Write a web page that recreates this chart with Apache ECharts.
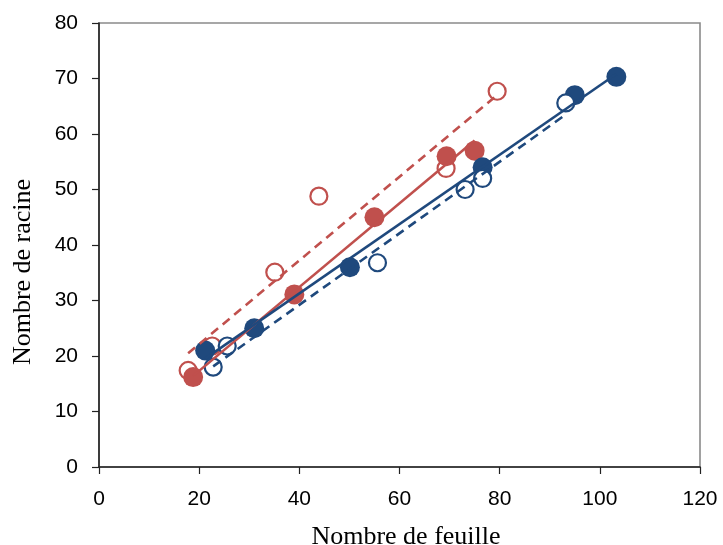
<!DOCTYPE html>
<html>
<head>
<meta charset="utf-8">
<script src="https://cdn.jsdelivr.net/npm/echarts@6/dist/echarts.min.js"></script>
<style>
  html, body { margin: 0; padding: 0; background: #fff; }
  #chart { width: 723px; height: 545px; }
</style>
</head>
<body>
<div id="chart"></div>
<script>
// Leaf count (x) and root count (y) for four groups
const redOpenX   = [17.8, 22.6, 35.1, 43.9, 69.3, 79.5];
const redOpenY   = [17.4, 21.8, 35.1, 48.8, 53.8, 67.7];
const redFilledX = [18.8, 39.0, 55.0, 69.4, 75.0];
const redFilledY = [16.2, 31.1, 45.0, 56.0, 57.0];
const blueFilledX = [21.2, 31.0, 50.1, 76.6, 95.0, 103.3];
const blueFilledY = [21.0, 25.0, 36.0, 54.0, 67.0, 70.3];
const blueOpenX  = [22.8, 25.6, 55.6, 73.1, 76.6, 93.2];
const blueOpenY  = [18.0, 21.8, 36.8, 50.0, 52.0, 65.6];

const xTicks = [0, 20, 40, 60, 80, 100, 120];
const yTicks = [0, 10, 20, 30, 40, 50, 60, 70, 80];

const RED = '#C0504D';
const BLUE = '#1F497D';

function pairs(xs, ys) { return xs.map((x, i) => [x, ys[i]]); }

// Least-squares line over the x range of a group
function fitLine(xs, ys) {
  const n = xs.length;
  const mx = xs.reduce((a, b) => a + b, 0) / n;
  const my = ys.reduce((a, b) => a + b, 0) / n;
  let sxy = 0, sxx = 0;
  for (let i = 0; i < n; i++) {
    sxy += (xs[i] - mx) * (ys[i] - my);
    sxx += (xs[i] - mx) * (xs[i] - mx);
  }
  const k = sxy / sxx;
  const b = my - k * mx;
  const x0 = Math.min(...xs), x1 = Math.max(...xs);
  return [[x0, k * x0 + b], [x1, k * x1 + b]];
}

function scatter(xs, ys, color, filled, z) {
  return {
    type: 'scatter',
    data: pairs(xs, ys),
    symbol: 'circle',
    symbolSize: filled ? 20 : 17,
    itemStyle: filled
      ? { color: color, opacity: 1 }
      : { color: '#ffffff', borderColor: color, borderWidth: 2.2, opacity: 1 },
    z: z,
    silent: true
  };
}

function trend(xs, ys, color, dashed) {
  return {
    type: 'line',
    data: fitLine(xs, ys),
    showSymbol: false,
    symbol: 'none',
    lineStyle: { color: color, width: 2.6, type: dashed ? [9, 6] : 'solid' },
    z: 10,
    silent: true
  };
}

const chart = echarts.init(document.getElementById('chart'), null, { renderer: 'canvas' });

chart.setOption({
  animation: false,
  backgroundColor: '#ffffff',
  grid: {
    left: 99, right: 23, top: 23, bottom: 78,
    outerBoundsMode: 'none',
    containLabel: false,
    show: true,
    borderColor: '#8a8a8a',
    borderWidth: 1.6,
    backgroundColor: 'transparent'
  },
  xAxis: {
    type: 'value',
    min: xTicks[0], max: xTicks[xTicks.length - 1], interval: 20,
    name: 'Nombre de feuille',
    nameLocation: 'middle',
    nameGap: 57,
    nameTextStyle: { fontFamily: 'Liberation Serif', fontSize: 26, color: '#000', padding: [0, 0, 0, 13] },
    axisLine: { show: true, onZero: false, lineStyle: { color: '#222', width: 1.6 } },
    axisTick: { show: true, inside: false, length: 7, lineStyle: { color: '#222', width: 1.2 } },
    axisLabel: { margin: 22, fontFamily: 'Liberation Sans', fontSize: 21, color: '#000' },
    splitLine: { show: false }
  },
  yAxis: {
    type: 'value',
    min: yTicks[0], max: yTicks[yTicks.length - 1], interval: 10,
    name: 'Nombre de racine',
    nameLocation: 'middle',
    nameGap: 63,
    nameRotate: 90,
    nameTextStyle: { fontFamily: 'Liberation Serif', fontSize: 26, color: '#000', padding: [0, 54, 0, 0] },
    axisLine: { show: true, onZero: false, lineStyle: { color: '#222', width: 1.6 } },
    axisTick: { show: true, inside: false, length: 7, lineStyle: { color: '#222', width: 1.2 } },
    axisLabel: { margin: 21, fontFamily: 'Liberation Sans', fontSize: 21, color: '#000' },
    splitLine: { show: false }
  },
  series: [
    scatter(redOpenX, redOpenY, RED, false, 2),
    scatter(redFilledX, redFilledY, RED, true, 3),
    scatter(blueFilledX, blueFilledY, BLUE, true, 4),
    scatter(blueOpenX, blueOpenY, BLUE, false, 5),
    trend(redOpenX, redOpenY, RED, true),
    trend(redFilledX, redFilledY, RED, false),
    trend(blueFilledX, blueFilledY, BLUE, false),
    trend(blueOpenX, blueOpenY, BLUE, true)
  ]
});
</script>
</body>
</html>
